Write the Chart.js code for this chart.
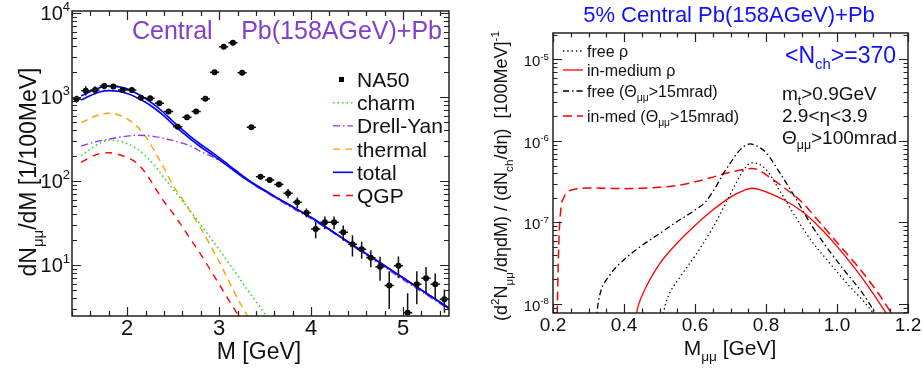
<!DOCTYPE html>
<html>
<head>
<meta charset="utf-8">
<script src="https://cdn.jsdelivr.net/npm/chart.js@4.4.1/dist/chart.umd.min.js"></script>
<style>
  html, body { margin: 0; padding: 0; background: #fff; }
  #wrap { position: relative; width: 922px; height: 368px; }
  canvas { position: absolute; top: 0; }
  #cL { left: 0; }
  #cR { left: 460px; }
</style>
</head>
<body>
<div id="wrap">
  <canvas id="cL" width="460" height="368"></canvas>
  <canvas id="cR" width="462" height="368"></canvas>
</div>
<script>
// =============================================
// Left panel: NA50 dimuon spectrum, central Pb+Pb
// =============================================
const na50Mass = [1.45, 1.55, 1.65, 1.75, 1.85, 1.95, 2.05, 2.15, 2.25, 2.35, 2.45, 2.55, 2.65, 2.75, 2.85, 2.95, 3.05, 3.15, 3.25, 3.35,
  3.45, 3.55, 3.65, 3.75, 3.85, 3.95, 4.05, 4.15, 4.25, 4.35, 4.45, 4.55, 4.65, 4.75, 4.85, 4.95, 5.05, 5.15, 5.25, 5.35, 5.45];
const na50Yield = [947, 1190, 1210, 1350, 1330, 1210, 1210, 980, 965, 840, 670, 443, 573, 670, 955, 1970, 3970, 4430, 1950, 436,
  112, 103, 91, 71.5, 55.7, 42, 26.8, 32.2, 32.2, 24.5, 17.6, 15.4, 12.2, 9.5, 5.7, 9.8, 2.7, 5.9, 6.95, 5.9, 3.9];
const na50Err = [90, 150, 130, 110, 90, 70, 60, 40, 38, 35, 30, 20, 22, 25, 30, 40, 60, 70, 40, 15,
  4, 3, 3, 9, 8, 5, 6, 5.5, 5.5, 5, 5, 3.5, 2.8, 3, 2.7, 2.8, 1.9, 2.5, 2.5, 2, 1.2];
const na50HalfBin = 0.05;

const curveMass = [1.5, 1.6, 1.7, 1.8, 1.9, 2.0, 2.1, 2.2, 2.3, 2.4, 2.5, 2.6, 2.7, 2.8, 2.9, 3.0, 3.1, 3.2, 3.3, 3.4,
  3.5, 3.6, 3.8, 4.0, 4.25, 4.5, 4.75, 5.0, 5.25, 5.5];
const totalHigh = [1030, 1160, 1290, 1350, 1330, 1250, 1110, 960, 800, 650, 510, 410, 330, 272, 228, 190, 156, 128, 106, 90,
  77, 66, 49.5, 37, 24.4, 16.1, 10.7, 7.05, 4.65, 3.07];
const totalLow = [920, 1040, 1150, 1190, 1170, 1100, 990, 865, 730, 595, 470, 380, 308, 254, 214, 180, 149, 123, 103, 88,
  76, 65.5, 49, 36.6, 24.2, 16, 10.6, 7.0, 4.62, 3.05];
const charmYield = [199, 240, 282, 305, 300, 278, 245, 200, 152, 110, 80, 58, 42, 30, 21.5, 15.2, 10.7, 7.5, 5.2, 3.7,
  2.6, 1.85, null, null, null, null, null, null, null, null];
const drellYanYield = [261, 282, 300, 315, 330, 342, 350, 348, 338, 322, 302, 282, 258, 225, 200, 176, 152, 130, 106, 87,
  75, 64, 47.5, 35.5, 24, 15.5, 10.2, 6.7, 4.45, 2.95];
const thermalYield = [494, 560, 615, 640, 615, 550, 455, 340, 225, 143, 88, 61, 41, 27.5, 17.5, 11, 6.6, 4.0, 2.55, 1.6,
  null, null, null, null, null, null, null, null, null, null];
const qgpYield = [167, 192, 212, 217, 208, 190, 165, 125, 84, 57, 41, 28.5, 19.5, 13.4, 8.9, 5.9, 3.9, 2.6, 1.7, null,
  null, null, null, null, null, null, null, null, null, null];

// =============================================
// Right panel: rho spectra normalised to dNch/deta
// =============================================
const freeRhoMass = [0.505, 0.52, 0.56, 0.6, 0.65, 0.69, 0.72, 0.74, 0.76, 0.78, 0.8, 0.84, 0.89, 0.93, 0.98, 1.03, 1.08, 1.11];
const freeRhoVal = [6e-9, 1.1e-8, 2.2e-8, 3.9e-8, 8.6e-8, 1.85e-7, 3.3e-7, 4.6e-7, 5.4e-7, 5.2e-7, 4.5e-7, 2.4e-7, 1.05e-7,
  5.8e-8, 3.16e-8, 1.75e-8, 1.02e-8, 7e-9];
const inMedRhoMass = [0.43, 0.44, 0.46, 0.5, 0.55, 0.6, 0.65, 0.7, 0.74, 0.76, 0.78, 0.8, 0.85, 0.9, 0.95, 1.0, 1.05, 1.1, 1.14];
const inMedRhoVal = [6e-9, 9.5e-9, 1.55e-8, 3.1e-8, 5.6e-8, 9.2e-8, 1.42e-7, 2.05e-7, 2.5e-7, 2.63e-7, 2.55e-7, 2.38e-7, 1.9e-7,
  1.38e-7, 8.8e-8, 5.1e-8, 2.75e-8, 1.38e-8, 7.5e-9];
const freeCutMass = [0.32, 0.33, 0.36, 0.4, 0.45, 0.5, 0.55, 0.6, 0.63, 0.66, 0.68, 0.7, 0.72, 0.74, 0.755, 0.78, 0.8, 0.84,
  0.88, 0.93, 0.98, 1.03, 1.07, 1.11];
const freeCutVal = [6e-9, 1.2e-8, 2.25e-8, 3.5e-8, 5.2e-8, 7.3e-8, 1.03e-7, 1.42e-7, 1.8e-7, 2.8e-7, 4.0e-7, 5.4e-7, 7.2e-7,
  8.7e-7, 9.2e-7, 8.4e-7, 7.2e-7, 4.0e-7, 2.1e-7, 9e-8, 4.4e-8, 2.3e-8, 1.4e-8, 7.5e-9];
const inMedCutMass = [0.211, 0.216, 0.222, 0.23, 0.24, 0.26, 0.3, 0.35, 0.4, 0.45, 0.5, 0.55, 0.6, 0.65, 0.7, 0.74, 0.76, 0.78,
  0.8, 0.84, 0.9, 0.95, 1.0, 1.05, 1.1, 1.15, 1.16];
const inMedCutVal = [5e-9, 5e-8, 1.45e-7, 2.0e-7, 2.35e-7, 2.55e-7, 2.65e-7, 2.63e-7, 2.6e-7, 2.63e-7, 2.7e-7, 2.85e-7, 3.15e-7,
  3.6e-7, 4.15e-7, 4.5e-7, 4.6e-7, 4.4e-7, 3.85e-7, 2.9e-7, 1.8e-7, 1.02e-7, 5.7e-8, 3.2e-8, 1.7e-8, 8.1e-9, 6.8e-9];

// ---- styles ----
const FONT = '"Liberation Sans", Arial, Helvetica, sans-serif';
const STY = {
  total:   { color: '#0000ff', dash: [], width: 1.6 },
  charm:   { color: '#22dd22', dash: [1.5, 3], width: 1.6 },
  dy:      { color: '#9933e6', dash: [7, 3, 1.5, 3], width: 1.4 },
  thermal: { color: '#ff9f00', dash: [7, 5], width: 1.4 },
  qgp:     { color: '#ff0000', dash: [7, 6], width: 1.4 },
  freeRho: { color: '#000000', dash: [1.3, 3], width: 1.3 },
  inMed:   { color: '#ff0000', dash: [], width: 1.3 },
  freeCut: { color: '#000000', dash: [6, 3, 1.5, 3], width: 1.3 },
  inMedCut:{ color: '#ff0000', dash: [9, 5], width: 1.5 }
};

const toPoints = (xs, ys) => xs.map((x, i) => ({ x, y: ys[i] })).filter(p => p.y != null);

function lineDataset(label, xs, ys, st) {
  return {
    label, data: toPoints(xs, ys), showLine: true, pointRadius: 0,
    borderColor: st.color, borderWidth: st.width, borderDash: st.dash,
    cubicInterpolationMode: 'monotone', fill: false, clip: 0
  };
}

// rich text: parts = [[text, 'sub'|'sup'|undefined], ...]
function drawRich(ctx, parts, x, y, size, color, align) {
  const fontFor = p => (p[1] ? size * 0.65 : size) + 'px ' + FONT;
  let w = 0;
  parts.forEach(p => { ctx.font = fontFor(p); w += ctx.measureText(p[0]).width; });
  let cx = align === 'center' ? x - w / 2 : align === 'right' ? x - w : x;
  ctx.fillStyle = color;
  ctx.textAlign = 'left';
  ctx.textBaseline = 'alphabetic';
  parts.forEach(p => {
    ctx.font = fontFor(p);
    const dy = p[1] === 'sub' ? size * 0.28 : p[1] === 'sup' ? -size * 0.45 : 0;
    ctx.fillText(p[0], cx, y + dy);
    cx += ctx.measureText(p[0]).width;
  });
}

function drawRotated(ctx, parts, cx, cy, size, color) {
  ctx.save();
  ctx.translate(cx, cy);
  ctx.rotate(-Math.PI / 2);
  drawRich(ctx, parts, 0, size * 0.36, size, color, 'center');
  ctx.restore();
}

function logTicks(min, max) {
  const out = [];
  for (let d = Math.floor(Math.log10(min)); d <= Math.ceil(Math.log10(max)); d++) {
    for (let k = 1; k <= 9; k++) {
      const v = k * Math.pow(10, d);
      if (v >= min && v <= max) out.push({ v, major: k === 1, exp: d });
    }
  }
  return out;
}

function linTicks(min, max, step, majorStep) {
  const out = [];
  const n = Math.round((max - min) / step);
  for (let i = 0; i <= n; i++) {
    const v = +(min + i * step).toFixed(6);
    const r = v / majorStep;
    out.push({ v, major: Math.abs(r - Math.round(r)) < 1e-6 });
  }
  return out;
}

function drawFrame(chart, xt, yt, majLen, minLen) {
  const { ctx, chartArea: a, scales: { x, y } } = chart;
  ctx.save();
  ctx.strokeStyle = '#222';
  ctx.lineWidth = 1.2;
  ctx.setLineDash([]);
  ctx.beginPath();
  xt.forEach(t => {
    const px = Math.round(x.getPixelForValue(t.v)) + 0.5;
    const l = t.major ? majLen : minLen;
    ctx.moveTo(px, a.bottom); ctx.lineTo(px, a.bottom - l);
    ctx.moveTo(px, a.top); ctx.lineTo(px, a.top + l);
  });
  yt.forEach(t => {
    const py = Math.round(y.getPixelForValue(t.v)) + 0.5;
    const l = t.major ? majLen : minLen;
    ctx.moveTo(a.left, py); ctx.lineTo(a.left + l, py);
    ctx.moveTo(a.right, py); ctx.lineTo(a.right - l, py);
  });
  ctx.stroke();
  ctx.lineWidth = 1.5;
  ctx.strokeRect(a.left, a.top, a.right - a.left, a.bottom - a.top);
  ctx.restore();
}

function legendSample(ctx, st, x0, x1, y) {
  ctx.save();
  ctx.strokeStyle = st.color;
  ctx.lineWidth = st.width;
  ctx.setLineDash(st.dash);
  ctx.beginPath();
  ctx.moveTo(x0, y); ctx.lineTo(x1, y);
  ctx.stroke();
  ctx.restore();
}

// ---- error bars for the NA50 points ----
const errorBars = {
  id: 'errorBars',
  afterDatasetsDraw(chart) {
    const { ctx, chartArea: a, scales: { x, y } } = chart;
    ctx.save();
    ctx.beginPath();
    ctx.rect(a.left, a.top, a.right - a.left, a.bottom - a.top);
    ctx.clip();
    ctx.strokeStyle = '#111';
    ctx.lineWidth = 1.5;
    ctx.beginPath();
    na50Mass.forEach((m, i) => {
      const v = na50Yield[i], e = na50Err[i];
      const px = x.getPixelForValue(m), py = y.getPixelForValue(v);
      ctx.moveTo(x.getPixelForValue(m - na50HalfBin), py);
      ctx.lineTo(x.getPixelForValue(m + na50HalfBin), py);
      ctx.moveTo(px, y.getPixelForValue(v + e));
      ctx.lineTo(px, y.getPixelForValue(Math.max(v - e, 0.05)));
    });
    ctx.stroke();
    ctx.restore();
  }
};

// ---- left panel decorations ----
const leftDecor = {
  id: 'leftDecor',
  afterDraw(chart) {
    const { ctx, scales: { x, y } } = chart;
    const yt = logTicks(y.min, y.max);
    drawFrame(chart, linTicks(1.4, 5.4, 0.2, 1), yt, 9, 5);

    yt.filter(t => t.major).forEach(t => {
      drawRich(ctx, [['10'], [String(t.exp), 'sup']], 70, y.getPixelForValue(t.v) + 7, 20, '#111', 'right');
    });
    [2, 3, 4, 5].forEach(v => drawRich(ctx, [[String(v)]], x.getPixelForValue(v), 335, 22, '#111', 'center'));

    drawRich(ctx, [['M [GeV]']], 259, 359, 23, '#111', 'center');
    drawRotated(ctx, [['dN'], ['μμ', 'sub'], ['/dM [1/100MeV]']], 28, 172, 23, '#111');

    drawRich(ctx, [['Central']], 132, 39, 25, '#8240c8', 'left');
    drawRich(ctx, [['Pb(158AGeV)+Pb']], 442, 39, 25, '#8240c8', 'right');

    // legend
    const rows = [
      { label: 'NA50', marker: true },
      { label: 'charm', st: STY.charm },
      { label: 'Drell-Yan', st: STY.dy },
      { label: 'thermal', st: STY.thermal },
      { label: 'total', st: STY.total },
      { label: 'QGP', st: STY.qgp }
    ];
    rows.forEach((r, i) => {
      const base = 87 + i * 23.2;
      if (r.marker) {
        ctx.fillStyle = '#000';
        ctx.fillRect(339, base - 10, 5, 5);
      } else {
        legendSample(ctx, r.st, 333, 353, base - 7.5);
      }
      drawRich(ctx, [[r.label]], 357, base, 21, '#111', 'left');
    });
  }
};

// ---- right panel decorations ----
const rightDecor = {
  id: 'rightDecor',
  afterDraw(chart) {
    const { ctx, scales: { x, y } } = chart;
    const yt = logTicks(y.min, y.max);
    drawFrame(chart, linTicks(0.2, 1.2, 0.05, 0.2), yt, 9, 4.5);

    yt.filter(t => t.major).forEach(t => {
      drawRich(ctx, [['10'], [String(t.exp), 'sup']], 89, y.getPixelForValue(t.v) + 7, 15, '#111', 'right');
    });
    ['0.2', '0.4', '0.6', '0.8', '1.0', '1.2'].forEach(s =>
      drawRich(ctx, [[s]], x.getPixelForValue(parseFloat(s)), 331, 19, '#111', 'center'));

    drawRich(ctx, [['M'], ['μμ', 'sub'], [' [GeV]']], 270, 355, 21, '#111', 'center');
    drawRotated(ctx, [['(d'], ['2', 'sup'], ['N'], ['μμ', 'sub'], ['/dηdM) / (dN'], ['ch', 'sub'],
      ['/dη)  [100MeV]'], ['-1', 'sup']], 41, 176, 18, '#111');

    drawRich(ctx, [['5% Central Pb(158AGeV)+Pb']], 269, 22, 22, '#1010ff', 'center');

    const rows = [
      { parts: [['free ρ']], st: STY.freeRho, y: 51 },
      { parts: [['in-medium ρ']], st: STY.inMed, y: 70 },
      { parts: [['free (Θ'], ['μμ', 'sub'], ['>15mrad)']], st: STY.freeCut, y: 91 },
      { parts: [['in-med (Θ'], ['μμ', 'sub'], ['>15mrad)']], st: STY.inMedCut, y: 116 }
    ];
    rows.forEach(r => {
      legendSample(ctx, r.st, 103, 123, r.y);
      drawRich(ctx, r.parts, 127, r.y + 5.5, 16, '#111', 'left');
    });

    drawRich(ctx, [['<N'], ['ch', 'sub'], ['>=370']], 325, 63, 23, '#1010ff', 'left');
    drawRich(ctx, [['m'], ['t', 'sub'], ['>0.9GeV']], 322, 100, 19, '#111', 'left');
    drawRich(ctx, [['2.9<η<3.9']], 322, 122, 19, '#111', 'left');
    drawRich(ctx, [['Θ'], ['μμ', 'sub'], ['>100mrad']], 322, 144, 19, '#111', 'left');
  }
};

const baseOptions = (padding, xr, yr) => ({
  responsive: false,
  animation: false,
  devicePixelRatio: 1,
  layout: { padding },
  plugins: { legend: { display: false }, tooltip: { enabled: false } },
  scales: {
    x: { type: 'linear', min: xr[0], max: xr[1], display: false },
    y: { type: 'logarithmic', min: yr[0], max: yr[1], display: false }
  }
});

new Chart(document.getElementById('cL'), {
  type: 'scatter',
  data: {
    datasets: [
      {
        label: 'NA50', data: toPoints(na50Mass, na50Yield), showLine: false,
        pointStyle: 'circle', pointRadius: 3, backgroundColor: '#000', borderColor: '#000', borderWidth: 0, clip: 0
      },
      lineDataset('total', curveMass, totalHigh, STY.total),
      lineDataset('total (lower)', curveMass, totalLow, STY.total),
      lineDataset('Drell-Yan', curveMass, drellYanYield, STY.dy),
      lineDataset('charm', curveMass, charmYield, STY.charm),
      lineDataset('thermal', curveMass, thermalYield, STY.thermal),
      lineDataset('QGP', curveMass, qgpYield, STY.qgp)
    ]
  },
  options: baseOptions({ left: 72, right: 11, top: 11, bottom: 52 }, [1.4, 5.5], [2.47, 10570]),
  plugins: [errorBars, leftDecor]
});

new Chart(document.getElementById('cR'), {
  type: 'scatter',
  data: {
    datasets: [
      lineDataset('free rho', freeRhoMass, freeRhoVal, STY.freeRho),
      lineDataset('in-medium rho', inMedRhoMass, inMedRhoVal, STY.inMed),
      lineDataset('free (theta>15mrad)', freeCutMass, freeCutVal, STY.freeCut),
      lineDataset('in-med (theta>15mrad)', inMedCutMass, inMedCutVal, STY.inMedCut)
    ]
  },
  options: baseOptions({ left: 93, right: 14, top: 33, bottom: 55 }, [0.2, 1.2], [7.76e-9, 2.11e-5]),
  plugins: [rightDecor]
});
</script>
</body>
</html>
